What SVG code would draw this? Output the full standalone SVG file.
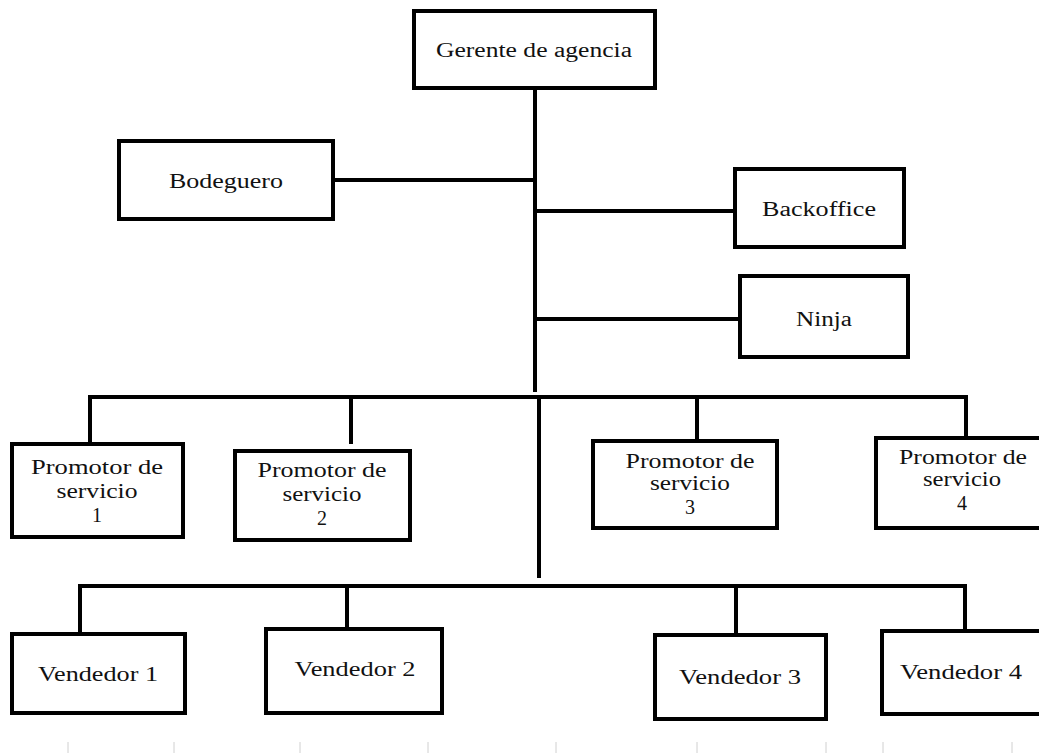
<svg xmlns="http://www.w3.org/2000/svg" width="1039" height="753" viewBox="0 0 1039 753">
<style>
.box{fill:#fff;stroke:#000;stroke-width:4}
.ln{stroke:#000;stroke-width:4;fill:none}
.t{font-family:"Liberation Serif","Times New Roman",serif;font-size:20px;fill:#111;text-anchor:middle}
.tick{stroke:#d0d0d0;stroke-width:1}
</style>
<rect width="1039" height="753" fill="#fff"/>
<g id="connectors">
<path class="ln" d="M535 88V392"/>
<path class="ln" d="M333 180H535"/>
<path class="ln" d="M535 211H735"/>
<path class="ln" d="M537 319H740"/>
<path class="ln" d="M88 397H968"/>
<path class="ln" d="M90 397V444"/>
<path class="ln" d="M351 397V444"/>
<path class="ln" d="M697 397V441"/>
<path class="ln" d="M966 397V438"/>
<path class="ln" d="M539 395V578"/>
<path class="ln" d="M78 586H967"/>
<path class="ln" d="M80 586V634"/>
<path class="ln" d="M347 586V629"/>
<path class="ln" d="M736 586V635"/>
<path class="ln" d="M965 586V631"/>
</g>
<g id="n-gerente"><rect class="box" x="414" y="11" width="241" height="77"/><text class="t" x="534" y="57" textLength="196" lengthAdjust="spacingAndGlyphs">Gerente de agencia</text></g>
<g id="n-bodeguero"><rect class="box" x="119" y="141" width="214" height="78"/><text class="t" x="226" y="188" textLength="114" lengthAdjust="spacingAndGlyphs">Bodeguero</text></g>
<g id="n-backoffice"><rect class="box" x="735" y="169" width="169" height="78"/><text class="t" x="819" y="216" textLength="114" lengthAdjust="spacingAndGlyphs">Backoffice</text></g>
<g id="n-ninja"><rect class="box" x="740" y="276" width="168" height="81"/><text class="t" x="824" y="326" textLength="56" lengthAdjust="spacingAndGlyphs">Ninja</text></g>
<g id="n-promotor1"><rect class="box" x="12" y="444" width="171" height="93"/><text class="t" x="97" y="474"><tspan x="97" textLength="132" lengthAdjust="spacingAndGlyphs">Promotor de</tspan><tspan x="97" dy="24" textLength="81" lengthAdjust="spacingAndGlyphs">servicio</tspan><tspan x="97" dy="24">1</tspan></text></g>
<g id="n-promotor2"><rect class="box" x="235" y="451" width="175" height="89"/><text class="t" x="322" y="477"><tspan x="322" textLength="129" lengthAdjust="spacingAndGlyphs">Promotor de</tspan><tspan x="322" dy="24" textLength="79" lengthAdjust="spacingAndGlyphs">servicio</tspan><tspan x="322" dy="24">2</tspan></text></g>
<g id="n-promotor3"><rect class="box" x="593" y="441" width="184" height="87"/><text class="t" x="690" y="468"><tspan x="690" textLength="129" lengthAdjust="spacingAndGlyphs">Promotor de</tspan><tspan x="690" dy="22" textLength="80" lengthAdjust="spacingAndGlyphs">servicio</tspan><tspan x="690" dy="24">3</tspan></text></g>
<g id="n-promotor4"><rect class="box" x="876" y="438" width="175" height="90"/><text class="t" x="963" y="464"><tspan x="963" textLength="128" lengthAdjust="spacingAndGlyphs">Promotor de</tspan><tspan x="962" dy="22" textLength="78" lengthAdjust="spacingAndGlyphs">servicio</tspan><tspan x="962" dy="24">4</tspan></text></g>
<g id="n-vendedor1"><rect class="box" x="12" y="634" width="173" height="79"/><text class="t" x="98" y="681" textLength="120" lengthAdjust="spacingAndGlyphs">Vendedor 1</text></g>
<g id="n-vendedor2"><rect class="box" x="266" y="629" width="176" height="84"/><text class="t" x="355" y="676" textLength="121" lengthAdjust="spacingAndGlyphs">Vendedor 2</text></g>
<g id="n-vendedor3"><rect class="box" x="655" y="635" width="171" height="84"/><text class="t" x="740" y="684" textLength="122" lengthAdjust="spacingAndGlyphs">Vendedor 3</text></g>
<g id="n-vendedor4"><rect class="box" x="882" y="631" width="170" height="83"/><text class="t" x="961" y="679" textLength="122" lengthAdjust="spacingAndGlyphs">Vendedor 4</text></g>
<g id="ticks">
<path class="tick" d="M68 742V753M174 742V753M300 742V753M428 742V753M556 742V753M697 742V753M826 742V753M883 742V753M1012 742V753"/>
</g>
</svg>
